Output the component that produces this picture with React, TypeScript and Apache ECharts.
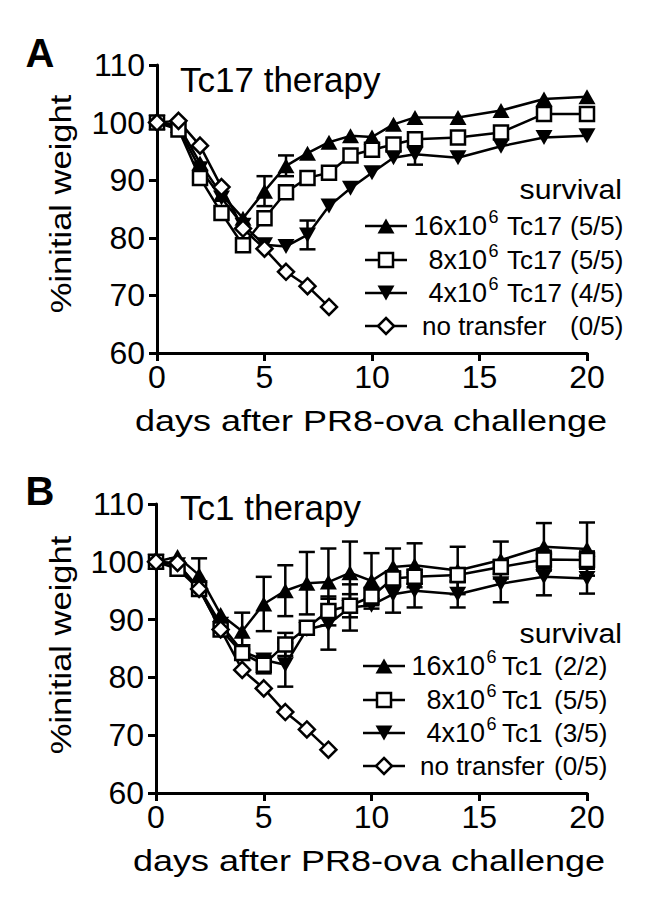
import React, { useEffect, useRef } from "react";
import * as echarts from "echarts";

// ---------- data ----------
const daysTreated = [0, 1, 2, 3, 4, 5, 6, 7, 8, 9, 10, 11, 12, 14, 16, 18, 20];
const daysNoTransfer = [0, 1, 2, 3, 4, 5, 6, 7, 8];
const xTicks = [0, 5, 10, 15, 20];
const yTicks = [60, 70, 80, 90, 100, 110];

// Panel A: Tc17 therapy
const a16 = [100, 99.5, 93, 87.5, 83.4, 88.1, 92.5, 94.7, 96.6, 97.7, 97.5, 99.7, 100.9, 100.9, 102.1, 104.1, 104.5];
const a16Err = [0, 0, 0, 0, 0, 2.6, 1.8, 0, 0, 0, 0, 0, 0, 0, 0, 0, 0];
const a8 = [100, 98.8, 90.4, 84.3, 78.7, 83.4, 87.9, 90.4, 91.3, 94.3, 95.3, 96.2, 97.1, 97.4, 98.3, 101.5, 101.5];
const a8Err = [0, 0, 0, 0, 0, 0, 0, 0, 0, 0, 0, 0, 0, 0, 0, 0, 0];
const a4 = [100, 99, 92, 86.9, 82.2, 78.8, 78.5, 80.5, 85.5, 88.6, 91.3, 93.9, 94.5, 93.9, 95.9, 97.4, 97.7];
const a4Err = [0, 0, 0, 0, 0, 0, 0, 2.5, 0, 0, 0, 0, 1.8, 0, 0, 0, 0];
const aNone = [100, 100.3, 96, 88.8, 81.6, 78.1, 74.1, 71.6, 68];

// Panel B: Tc1 therapy
const b16 = [100, 100.9, 97.7, 90.9, 88, 92.7, 95, 96.3, 96.5, 98.1, 96.7, 99.1, 99.4, 98.5, 100.3, 102.6, 102.2];
const b16Err = [0, 0, 2.9, 0, 3.2, 4.7, 4.4, 5.4, 5.8, 5.4, 4.8, 3.2, 3.8, 4.1, 3.2, 4.1, 4.6];
const b8 = [100, 98.8, 95.3, 88.3, 84.2, 82.2, 85.7, 88.6, 91.5, 92.4, 94, 97.1, 97.4, 97.7, 99.1, 100.4, 100.3];
const b8Err = [0, 0, 0, 0, 0, 1.5, 2, 0, 2.5, 2, 1.5, 1.2, 1.2, 1.2, 1.2, 1.5, 1.5];
const b4 = [100, 99.5, 95.5, 89.2, 84.5, 83, 82.2, 88.3, 89.2, 92.1, 92.5, 94.4, 95, 94.4, 96.2, 97.4, 97.1];
const b4Err = [0, 0, 0, 0, 0, 0, 3.8, 0, 4.4, 4, 0, 3.2, 2.9, 2.3, 3.2, 3.2, 2.6];
const bNone = [100, 99.8, 95.3, 88.3, 81.3, 78.1, 74, 71, 67.5];

// legend texts
const legendDoses = ["16x10", "8x10", "4x10"];
const legendSup = "6";
const cellA = "Tc17";
const cellB = "Tc1";
const survivalA = ["(5/5)", "(5/5)", "(4/5)", "(0/5)"];
const survivalB = ["(2/2)", "(5/5)", "(3/5)", "(0/5)"];
const noTransferLabel = "no transfer";

const FONT = '"Liberation Sans", Arial, Helvetica, sans-serif';

function pairs(xs: number[], ys: number[]) {
  return xs.map((x, i) => [x, ys[i]]);
}
function triples(xs: number[], ys: number[], es: number[]) {
  return xs.map((x, i) => [x, ys[i], es[i]]);
}

const errRender = (params: any, api: any) => {
  const x = api.value(0);
  const y = api.value(1);
  const e = api.value(2);
  if (!e) return { type: "group", children: [] };
  const top = api.coord([x, y + e]);
  const bot = api.coord([x, y - e]);
  const hw = 8;
  const st = { stroke: "#000", lineWidth: 2.5 };
  return {
    type: "group",
    children: [
      { type: "line", shape: { x1: top[0], y1: top[1], x2: bot[0], y2: bot[1] }, style: st },
      { type: "line", shape: { x1: top[0] - hw, y1: top[1], x2: top[0] + hw, y2: top[1] }, style: st },
      { type: "line", shape: { x1: bot[0] - hw, y1: bot[1], x2: bot[0] + hw, y2: bot[1] }, style: st },
    ],
  };
};

function lineSeries(gi: number, xs: number[], ys: number[], kind: string) {
  let symbol = "triangle";
  let rotate = 0;
  let fill = "#000";
  let size: any = [17, 15];
  if (kind === "down") rotate = 180;
  if (kind === "square") { symbol = "rect"; fill = "#fff"; size = [14, 14]; }
  if (kind === "diamond") { symbol = "diamond"; fill = "#fff"; size = [16, 16]; }
  return {
    type: "line",
    xAxisIndex: gi,
    yAxisIndex: gi,
    data: pairs(xs, ys),
    symbol,
    symbolRotate: rotate,
    symbolSize: size,
    showAllSymbol: true,
    z: 3,
    lineStyle: { color: "#000", width: 2.5 },
    itemStyle: { color: fill, borderColor: "#000", borderWidth: kind === "square" || kind === "diamond" ? 2.5 : 0 },
  };
}

function errSeries(gi: number, xs: number[], ys: number[], es: number[]) {
  return {
    type: "custom",
    xAxisIndex: gi,
    yAxisIndex: gi,
    z: 1,
    renderItem: errRender,
    encode: { x: 0, y: 1 },
    data: triples(xs, ys, es),
  };
}

function axisX(gi: number) {
  return {
    type: "value",
    gridIndex: gi,
    min: xTicks[0],
    max: xTicks[xTicks.length - 1],
    interval: 5,
    axisLine: { show: true, onZero: false, lineStyle: { color: "#000", width: 3 } },
    axisTick: { show: true, length: 8, lineStyle: { color: "#000", width: 3 } },
    axisLabel: { fontSize: 32, fontFamily: FONT, color: "#000", margin: 8 },
    splitLine: { show: false },
  };
}
function axisY(gi: number) {
  return {
    type: "value",
    gridIndex: gi,
    min: yTicks[0],
    max: yTicks[yTicks.length - 1],
    interval: 10,
    axisLine: { show: true, onZero: false, lineStyle: { color: "#000", width: 3 } },
    axisTick: { show: true, length: 8, lineStyle: { color: "#000", width: 3 } },
    axisLabel: { fontSize: 32, fontFamily: FONT, color: "#000", margin: 12 },
    splitLine: { show: false },
  };
}

function txt(x: number, y: number, text: string, size: number, align: string, extra: any = {}) {
  return {
    type: "text",
    x,
    y,
    ...extra,
    style: {
      text,
      fontSize: size,
      fontFamily: FONT,
      fontWeight: extra.bold ? "bold" : "normal",
      fill: "#000",
      align,
      verticalAlign: "middle",
      textAlign: align,
      textVerticalAlign: "middle",
    },
  };
}

function legendSymbol(kind: string, cx: number, cy: number) {
  const st = { fill: kind === "square" || kind === "diamond" ? "#fff" : "#000", stroke: "#000", lineWidth: 2.5 };
  if (kind === "up")
    return { type: "polygon", shape: { points: [[cx - 8.5, cy + 7.5], [cx + 8.5, cy + 7.5], [cx, cy - 7.5]] }, style: { fill: "#000" } };
  if (kind === "down")
    return { type: "polygon", shape: { points: [[cx - 8.5, cy - 7.5], [cx + 8.5, cy - 7.5], [cx, cy + 7.5]] }, style: { fill: "#000" } };
  if (kind === "square")
    return { type: "rect", shape: { x: cx - 7, y: cy - 7, width: 14, height: 14 }, style: st };
  return { type: "polygon", shape: { points: [[cx, cy - 8], [cx + 8, cy], [cx, cy + 8], [cx - 8, cy]] }, style: st };
}

function legendBlock(
  rows: number[],
  lineX0: number,
  lineX1: number,
  symX: number,
  doseEnd: number,
  cellStart: number,
  survStart: number,
  noTransStart: number,
  cell: string,
  surv: string[]
) {
  const kinds = ["up", "square", "down", "diamond"];
  const els: any[] = [];
  rows.forEach((y, i) => {
    els.push({ type: "line", shape: { x1: lineX0, y1: y, x2: lineX1, y2: y }, style: { stroke: "#000", lineWidth: 2.5 } });
    els.push(legendSymbol(kinds[i], symX, y));
    if (i < 3) {
      els.push(txt(doseEnd, y, legendDoses[i], 27, "right"));
      els.push(txt(doseEnd + 1.5, y - 9.5, legendSup, 18, "left"));
      els.push(txt(cellStart, y, cell, 26, "left"));
    } else {
      els.push(txt(noTransStart, y, noTransferLabel, 26, "left"));
    }
    els.push(txt(survStart, y, surv[i], 26, "left"));
  });
  return els;
}

export default function App() {
  const ref = useRef<HTMLDivElement>(null);
  useEffect(() => {
    document.body.style.margin = "0";
    if (!ref.current) return;
    const chart = echarts.init(ref.current, undefined, { renderer: "svg" });
    const graphic: any[] = [
      txt(40, 53, "A", 40, "center", { bold: true }),
      txt(40, 491, "B", 40, "center", { bold: true }),
      txt(180, 79, "Tc17 therapy", 35, "left"),
      txt(180, 507, "Tc1 therapy", 35, "left"),
      { ...txt(61, 204, "%initial weight", 30, "center"), rotation: Math.PI / 2, scaleX: 1.15 },
      { ...txt(61, 645, "%initial weight", 30, "center"), rotation: Math.PI / 2, scaleX: 1.15 },
      { ...txt(371, 421, "days after PR8-ova challenge", 30, "center"), scaleX: 1.2 },
      { ...txt(369, 861, "days after PR8-ova challenge", 30, "center"), scaleX: 1.2 },
      { ...txt(622, 190, "survival", 27, "right"), scaleX: 1.12 },
      { ...txt(622, 634, "survival", 27, "right"), scaleX: 1.12 },
      ...legendBlock([226, 260, 293, 326], 365, 407, 386, 487, 507, 570, 422, cellA, survivalA),
      ...legendBlock([666, 700, 733, 766], 363, 405, 384, 485, 502, 554, 420, cellB, survivalB),
    ];
    chart.setOption({
      animation: false,
      backgroundColor: "#fff",
      grid: [
        { left: 157, top: 65, width: 430, height: 288 },
        { left: 156, top: 504, width: 431, height: 289 },
      ],
      xAxis: [axisX(0), axisX(1)],
      yAxis: [axisY(0), axisY(1)],
      graphic,
      series: [
        errSeries(0, daysTreated, a16, a16Err),
        errSeries(0, daysTreated, a8, a8Err),
        errSeries(0, daysTreated, a4, a4Err),
        lineSeries(0, daysTreated, a16, "up"),
        lineSeries(0, daysTreated, a4, "down"),
        lineSeries(0, daysTreated, a8, "square"),
        lineSeries(0, daysNoTransfer, aNone, "diamond"),
        errSeries(1, daysTreated, b16, b16Err),
        errSeries(1, daysTreated, b8, b8Err),
        errSeries(1, daysTreated, b4, b4Err),
        lineSeries(1, daysTreated, b16, "up"),
        lineSeries(1, daysTreated, b4, "down"),
        lineSeries(1, daysTreated, b8, "square"),
        lineSeries(1, daysNoTransfer, bNone, "diamond"),
      ],
    });
    return () => chart.dispose();
  }, []);
  return <div ref={ref} style={{ width: 655, height: 901 }} />;
}
